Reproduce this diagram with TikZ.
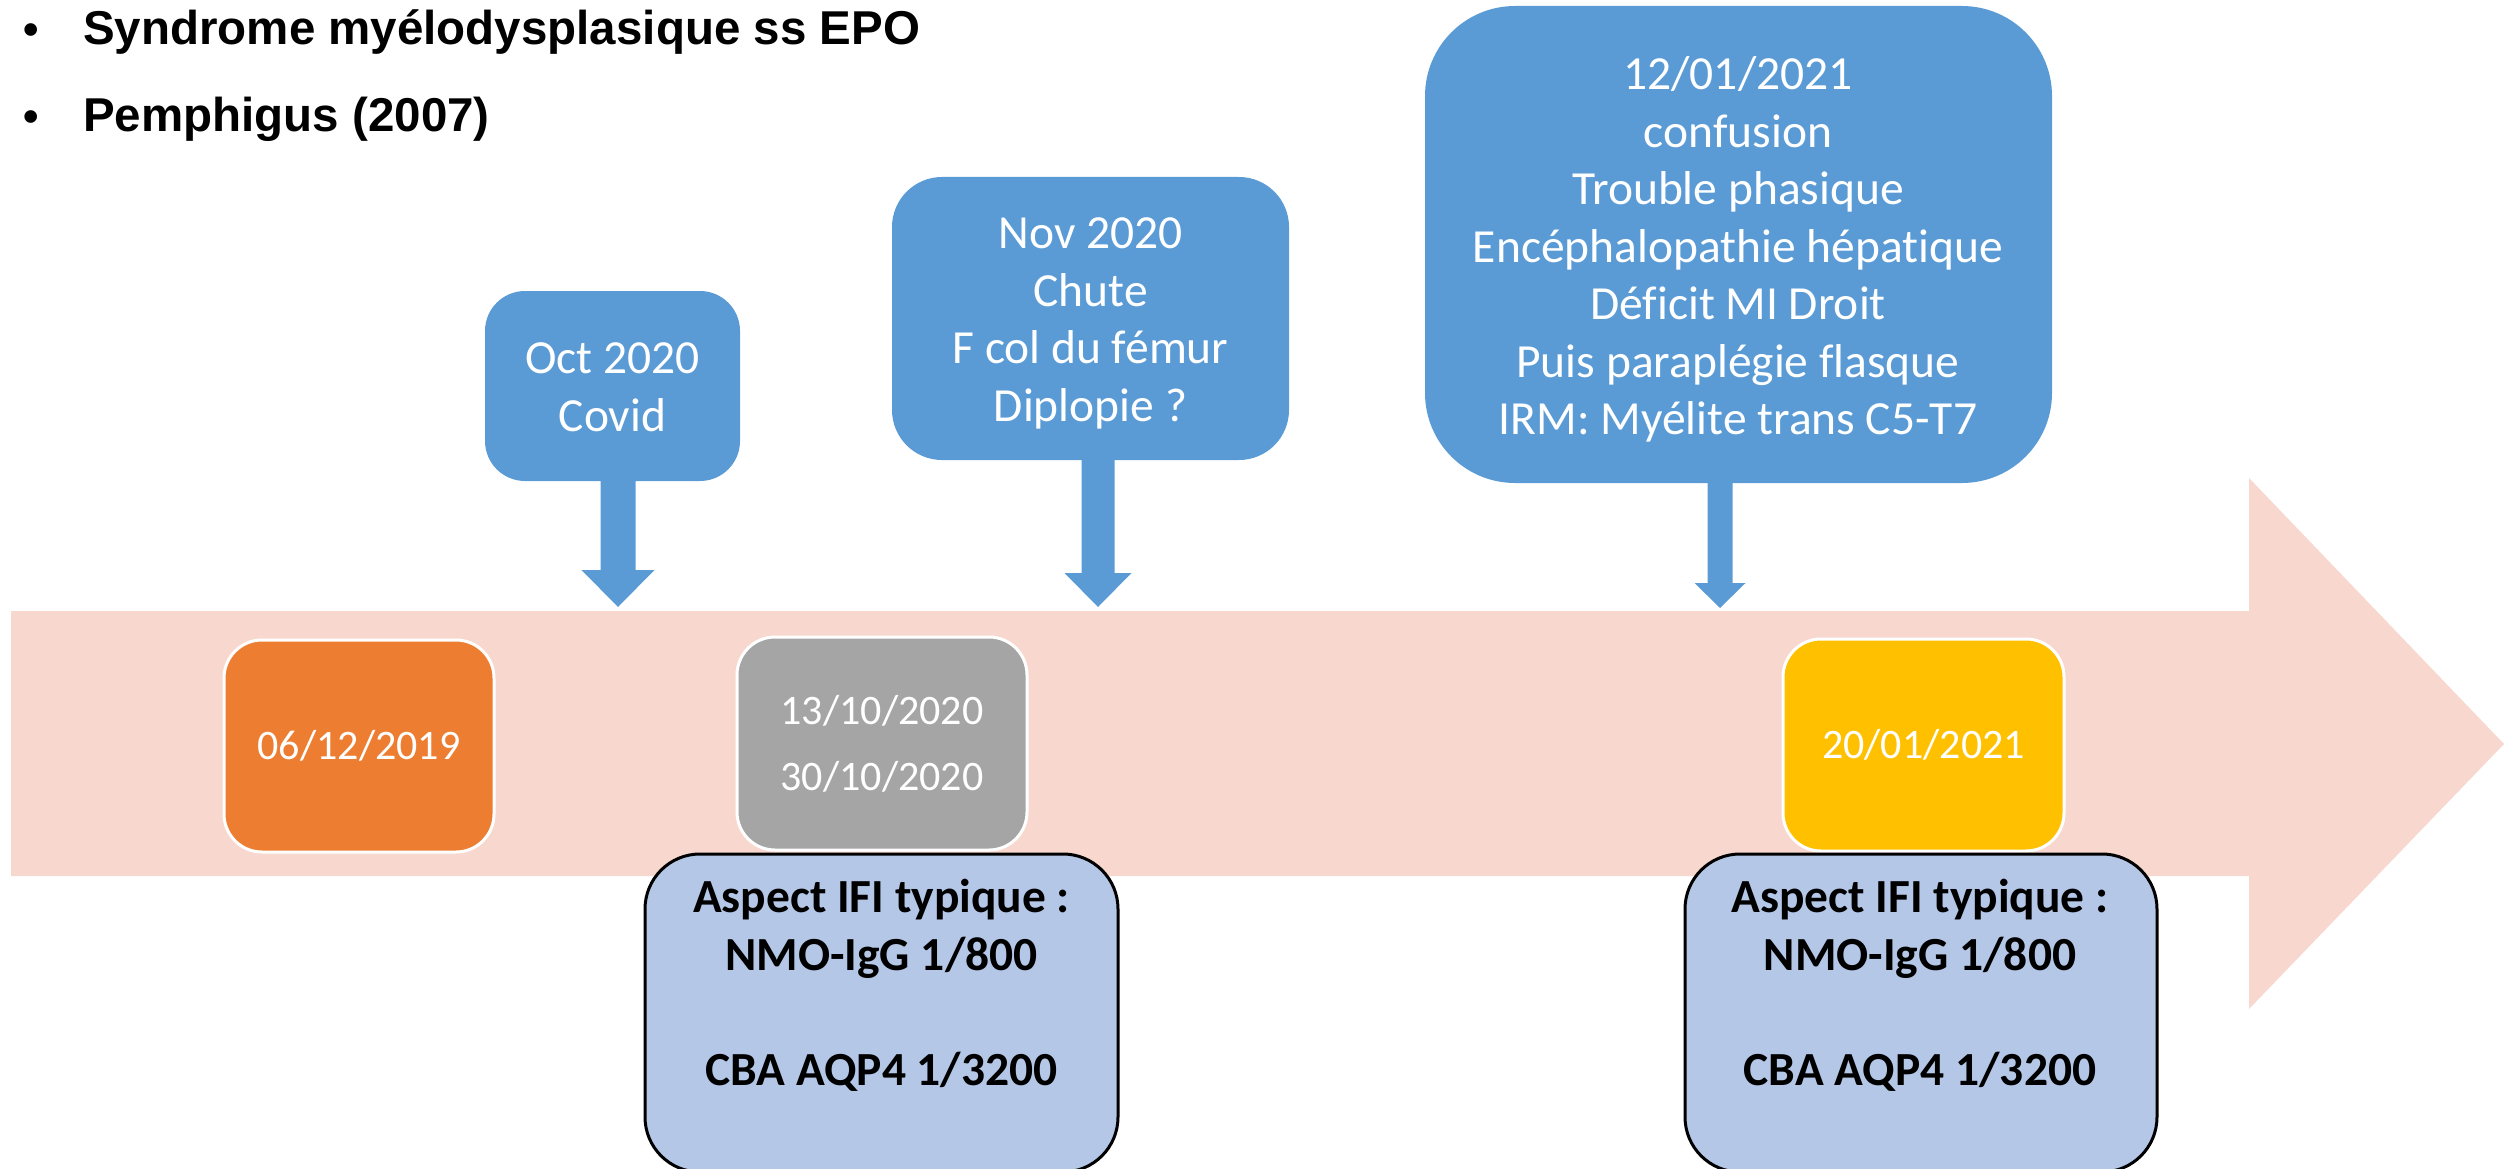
\documentclass[tikz,border=0pt]{standalone}
\usepackage{fontspec}
\setmainfont{Carlito}[Ligatures={NoCommon,NoRare,NoContextual},RawFeature={-liga;-dlig;-clig}]
\newfontfamily\arialfont{Liberation Sans}
\definecolor{band}{HTML}{F8D8CE}
\definecolor{callblue}{HTML}{5B9BD5}
\definecolor{dateorange}{HTML}{ED7D31}
\definecolor{dategrey}{HTML}{A5A5A5}
\definecolor{dateyellow}{HTML}{FFC000}
\definecolor{resblue}{HTML}{B4C7E7}
\begin{document}
\begin{tikzpicture}[x=1pt,y=-1pt,
  callbox/.style={fill=callblue, draw=none, inner sep=0pt},
  calltext/.style={text=white, align=center, inner sep=0pt, font=\fontsize{47.5}{57.5}\selectfont},
  datebox/.style={draw=white, line width=3pt, inner sep=0pt, text=white, align=center, rounded corners=38pt, font=\fontsize{42}{66}\selectfont},
  resbox/.style={fill=resblue, draw=black, line width=3pt, rounded corners=55pt, inner sep=0pt},
  restext/.style={align=center, inner sep=0pt, font=\bfseries\fontsize{47.5}{57.5}\selectfont},
  bullettext/.style={anchor=base west, inner sep=0pt, font=\arialfont\bfseries\fontsize{47.5}{57}\selectfont},
  bulletdot/.style={anchor=base, inner sep=0pt, font=\arialfont\bfseries\fontsize{44}{57}\selectfont}
]
\useasboundingbox (0,0) rectangle (2504,1169);
\clip (0,0) rectangle (2504,1169);

% timeline arrow
\fill[band] (11,611) -- (2249,611) -- (2249,478) -- (2504,744) -- (2249,1009) -- (2249,876) -- (11,876) -- cycle;

% bullets
\node[bulletdot] (b1) at (31,45) {•};
\node[bullettext] (t1) at (83,45) {Syndrome myélodysplasique ss EPO};
\node[bulletdot] (b2) at (31,132) {•};
\node[bullettext] (t2) at (83,132) {Pemphigus (2007)};

% callout pointers
\coordinate (tip1) at (618,607);
\coordinate (tip2) at (1098,607);
\coordinate (tip3) at (1720,608);
\fill[callblue] (tip1) -- ++(-36.5,-37) -- ++(19,0) -- ++(0,-110) -- ++(35,0) -- ++(0,110) -- ++(19,0) -- cycle;
\fill[callblue] (tip2) -- ++(-33.5,-34) -- ++(17,0) -- ++(0,-130) -- ++(33,0) -- ++(0,130) -- ++(17,0) -- cycle;
\fill[callblue] (tip3) -- ++(-25.5,-25) -- ++(13,0) -- ++(0,-130) -- ++(25,0) -- ++(0,130) -- ++(13,0) -- cycle;

% callout boxes
\node[callbox, rounded corners=40pt, minimum width=255pt, minimum height=190pt] (c1) at (612.5,386) {};
\node[calltext] (c1t) at (612.5,387) {Oct 2020\\Covid};
\node[callbox, rounded corners=50pt, minimum width=397pt, minimum height=283pt] (c2) at (1090.5,318.5) {};
\node[calltext] (c2t) at (1090.5,323.5) {Nov 2020\\Chute\\F col du fémur\\Diplopie ?};
\node[callbox, rounded corners=90pt, minimum width=627pt, minimum height=477pt] (c3) at (1738.5,244.5) {};
\node[calltext] (c3t) at (1738,249.5) {12/01/2021\\confusion\\Trouble phasique\\Encéphalopathie hépatique\\Déficit MI Droit\\Puis paraplégie flasque\\IRM: Myélite trans C5-T7};

% date boxes
\node[datebox, fill=dateorange, minimum width=270pt, minimum height=212pt] (d1) at (359,746) {06/12/2019};
\node[datebox, fill=dategrey, minimum width=290pt, minimum height=213pt] (d2) at (882,743.5) {13/10/2020\\30/10/2020};
\node[datebox, fill=dateyellow, minimum width=281pt, minimum height=212pt] (d3) at (1923.5,745) {20/01/2021};

% result boxes
\node[resbox, minimum width=473pt, minimum height=318pt] (r1) at (881.5,1013) {};
\node[restext] (r1t) at (881.5,985.5) {Aspect IFI typique :\\NMO-IgG 1/800\\[57.5pt]CBA AQP4 1/3200};
\node[resbox, minimum width=472pt, minimum height=318pt] (r2) at (1921,1013) {};
\node[restext] (r2t) at (1920,985.5) {Aspect IFI typique :\\NMO-IgG 1/800\\[57.5pt]CBA AQP4 1/3200};
\end{tikzpicture}
\end{document}
